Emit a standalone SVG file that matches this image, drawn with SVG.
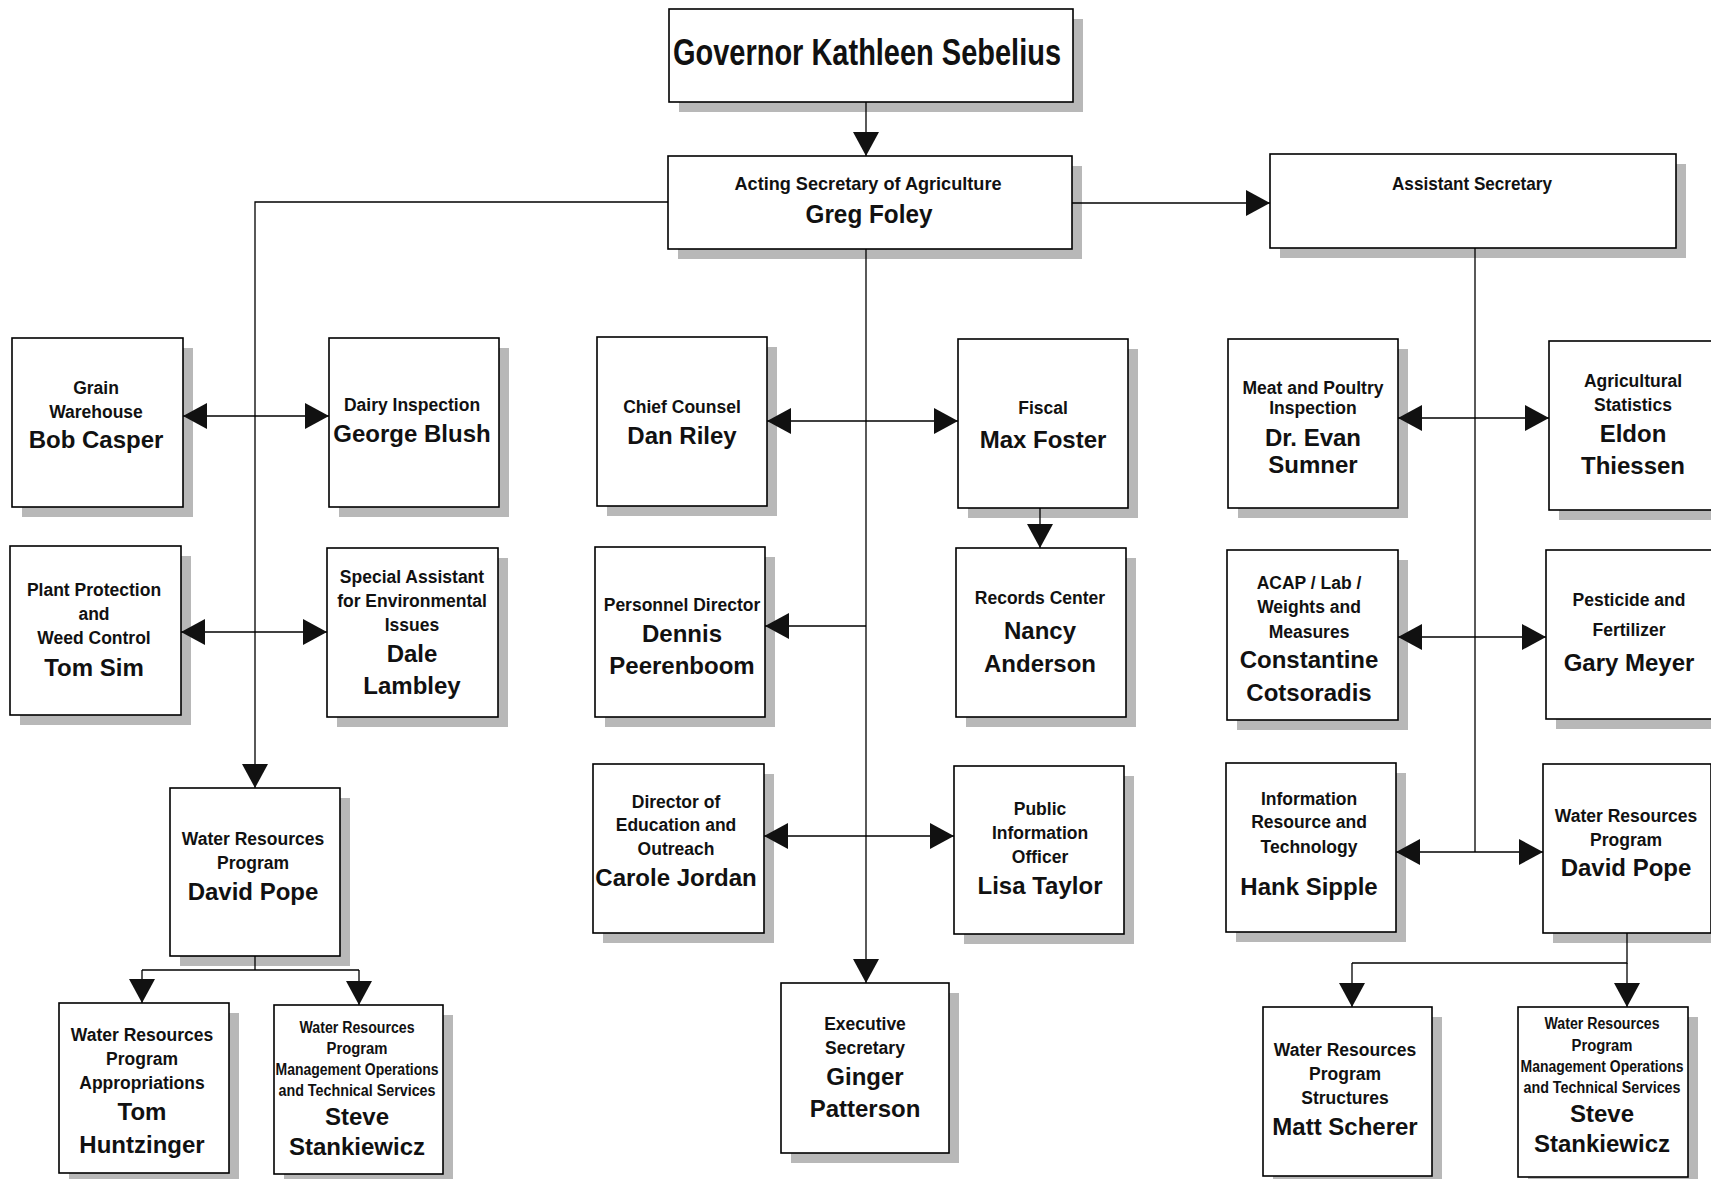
<svg xmlns="http://www.w3.org/2000/svg" width="1711" height="1179" viewBox="0 0 1711 1179">
<style>
.bg{fill:#fff}
.box{fill:#fff;stroke:#000;stroke-width:1.6}
.sh{fill:#b8b8b8}
.t{font-family:"Liberation Sans",Arial,sans-serif;font-weight:bold;text-anchor:middle;fill:#111}
.s{font-size:17.5px}
.m{font-size:16px}
.n{font-size:24px}
.c{stroke:#000;stroke-width:1.3;fill:none}
</style>
<defs>
<marker id="ah" viewBox="0 0 24 26" refX="24" refY="13" markerWidth="24" markerHeight="26" markerUnits="userSpaceOnUse" orient="auto-start-reverse">
<path d="M0,0 L24,13 L0,26 z" fill="#111"/>
</marker>
</defs>
<rect class="bg" x="0" y="0" width="1711" height="1179"/>

<g id="governor">
<rect class="sh" x="679" y="19" width="404" height="93"/>
<rect class="box" x="669" y="9" width="404" height="93"/>
<text class="t" x="867" y="65" font-size="36" textLength="388" lengthAdjust="spacingAndGlyphs">Governor Kathleen Sebelius</text>
</g>

<g id="acting-secretary">
<rect class="sh" x="678" y="166" width="404" height="93"/>
<rect class="box" x="668" y="156" width="404" height="93"/>
<text class="t" x="868" y="190" font-size="19" textLength="267" lengthAdjust="spacingAndGlyphs">Acting Secretary of Agriculture</text>
<text class="t" x="869" y="223" font-size="26" textLength="127" lengthAdjust="spacingAndGlyphs">Greg Foley</text>
</g>

<g id="assistant-secretary">
<rect class="sh" x="1280" y="164" width="406" height="94"/>
<rect class="box" x="1270" y="154" width="406" height="94"/>
<text class="t" x="1472" y="190" font-size="19" textLength="160" lengthAdjust="spacingAndGlyphs">Assistant Secretary</text>
</g>

<g id="grain-warehouse">
<rect class="sh" x="22" y="348" width="171" height="169"/>
<rect class="box" x="12" y="338" width="171" height="169"/>
<text class="t s" x="96" y="394">Grain</text>
<text class="t s" x="96" y="418">Warehouse</text>
<text class="t n" x="96" y="448">Bob Casper</text>
</g>

<g id="dairy-inspection">
<rect class="sh" x="339" y="348" width="170" height="169"/>
<rect class="box" x="329" y="338" width="170" height="169"/>
<text class="t s" x="412" y="411">Dairy Inspection</text>
<text class="t n" x="412" y="442">George Blush</text>
</g>

<g id="plant-protection">
<rect class="sh" x="20" y="556" width="171" height="169"/>
<rect class="box" x="10" y="546" width="171" height="169"/>
<text class="t s" x="94" y="596">Plant Protection</text>
<text class="t s" x="94" y="620">and</text>
<text class="t s" x="94" y="644">Weed Control</text>
<text class="t n" x="94" y="676">Tom Sim</text>
</g>

<g id="special-assistant">
<rect class="sh" x="337" y="558" width="171" height="169"/>
<rect class="box" x="327" y="548" width="171" height="169"/>
<text class="t s" x="412" y="583">Special Assistant</text>
<text class="t s" x="412" y="607">for Environmental</text>
<text class="t s" x="412" y="631">Issues</text>
<text class="t n" x="412" y="662">Dale</text>
<text class="t n" x="412" y="694">Lambley</text>
</g>

<g id="water-resources-left">
<rect class="sh" x="180" y="798" width="170" height="168"/>
<rect class="box" x="170" y="788" width="170" height="168"/>
<text class="t s" x="253" y="845">Water Resources</text>
<text class="t s" x="253" y="869">Program</text>
<text class="t n" x="253" y="900">David Pope</text>
</g>

<g id="tom-huntzinger">
<rect class="sh" x="69" y="1013" width="170" height="170"/>
<rect class="box" x="59" y="1003" width="170" height="170"/>
<text class="t s" x="142" y="1041">Water Resources</text>
<text class="t s" x="142" y="1065">Program</text>
<text class="t s" x="142" y="1089">Appropriations</text>
<text class="t n" x="142" y="1120">Tom</text>
<text class="t n" x="142" y="1153">Huntzinger</text>
</g>

<g id="steve-stankiewicz-left">
<rect class="sh" x="284" y="1015" width="169" height="169"/>
<rect class="box" x="274" y="1005" width="169" height="169"/>
<text class="t m" x="357" y="1033" textLength="115" lengthAdjust="spacingAndGlyphs">Water Resources</text>
<text class="t m" x="357" y="1054" textLength="61" lengthAdjust="spacingAndGlyphs">Program</text>
<text class="t m" x="357" y="1075" textLength="163" lengthAdjust="spacingAndGlyphs">Management Operations</text>
<text class="t m" x="357" y="1096" textLength="157" lengthAdjust="spacingAndGlyphs">and Technical Services</text>
<text class="t n" x="357" y="1125">Steve</text>
<text class="t n" x="357" y="1155">Stankiewicz</text>
</g>

<g id="chief-counsel">
<rect class="sh" x="607" y="347" width="170" height="169"/>
<rect class="box" x="597" y="337" width="170" height="169"/>
<text class="t s" x="682" y="413">Chief Counsel</text>
<text class="t n" x="682" y="444">Dan Riley</text>
</g>

<g id="fiscal">
<rect class="sh" x="968" y="349" width="170" height="169"/>
<rect class="box" x="958" y="339" width="170" height="169"/>
<text class="t s" x="1043" y="414">Fiscal</text>
<text class="t n" x="1043" y="448">Max Foster</text>
</g>

<g id="personnel-director">
<rect class="sh" x="605" y="557" width="170" height="170"/>
<rect class="box" x="595" y="547" width="170" height="170"/>
<text class="t s" x="682" y="611">Personnel Director</text>
<text class="t n" x="682" y="642">Dennis</text>
<text class="t n" x="682" y="674">Peerenboom</text>
</g>

<g id="records-center">
<rect class="sh" x="966" y="558" width="170" height="169"/>
<rect class="box" x="956" y="548" width="170" height="169"/>
<text class="t s" x="1040" y="604">Records Center</text>
<text class="t n" x="1040" y="639">Nancy</text>
<text class="t n" x="1040" y="672">Anderson</text>
</g>

<g id="director-education">
<rect class="sh" x="603" y="774" width="171" height="169"/>
<rect class="box" x="593" y="764" width="171" height="169"/>
<text class="t s" x="676" y="808">Director of</text>
<text class="t s" x="676" y="831">Education and</text>
<text class="t s" x="676" y="855">Outreach</text>
<text class="t n" x="676" y="886">Carole Jordan</text>
</g>

<g id="public-information">
<rect class="sh" x="964" y="776" width="170" height="168"/>
<rect class="box" x="954" y="766" width="170" height="168"/>
<text class="t s" x="1040" y="815">Public</text>
<text class="t s" x="1040" y="839">Information</text>
<text class="t s" x="1040" y="863">Officer</text>
<text class="t n" x="1040" y="894">Lisa Taylor</text>
</g>

<g id="executive-secretary">
<rect class="sh" x="791" y="993" width="168" height="170"/>
<rect class="box" x="781" y="983" width="168" height="170"/>
<text class="t s" x="865" y="1030">Executive</text>
<text class="t s" x="865" y="1054">Secretary</text>
<text class="t n" x="865" y="1085">Ginger</text>
<text class="t n" x="865" y="1117">Patterson</text>
</g>

<g id="meat-poultry">
<rect class="sh" x="1238" y="349" width="170" height="169"/>
<rect class="box" x="1228" y="339" width="170" height="169"/>
<text class="t s" x="1313" y="394">Meat and Poultry</text>
<text class="t s" x="1313" y="414">Inspection</text>
<text class="t n" x="1313" y="446">Dr. Evan</text>
<text class="t n" x="1313" y="473">Sumner</text>
</g>

<g id="agricultural-statistics">
<rect class="sh" x="1559" y="351" width="170" height="169"/>
<rect class="box" x="1549" y="341" width="170" height="169"/>
<text class="t s" x="1633" y="387">Agricultural</text>
<text class="t s" x="1633" y="411">Statistics</text>
<text class="t n" x="1633" y="442">Eldon</text>
<text class="t n" x="1633" y="474">Thiessen</text>
</g>

<g id="acap-lab">
<rect class="sh" x="1237" y="560" width="171" height="170"/>
<rect class="box" x="1227" y="550" width="171" height="170"/>
<text class="t s" x="1309" y="589">ACAP / Lab /</text>
<text class="t s" x="1309" y="613">Weights and</text>
<text class="t s" x="1309" y="638">Measures</text>
<text class="t n" x="1309" y="668">Constantine</text>
<text class="t n" x="1309" y="701">Cotsoradis</text>
</g>

<g id="pesticide-fertilizer">
<rect class="sh" x="1556" y="560" width="170" height="169"/>
<rect class="box" x="1546" y="550" width="170" height="169"/>
<text class="t s" x="1629" y="606">Pesticide and</text>
<text class="t s" x="1629" y="636">Fertilizer</text>
<text class="t n" x="1629" y="671">Gary Meyer</text>
</g>

<g id="information-resource">
<rect class="sh" x="1236" y="773" width="170" height="169"/>
<rect class="box" x="1226" y="763" width="170" height="169"/>
<text class="t s" x="1309" y="805">Information</text>
<text class="t s" x="1309" y="828">Resource and</text>
<text class="t s" x="1309" y="853">Technology</text>
<text class="t n" x="1309" y="895">Hank Sipple</text>
</g>

<g id="water-resources-right">
<rect class="sh" x="1553" y="774" width="168" height="169"/>
<rect class="box" x="1543" y="764" width="168" height="169"/>
<text class="t s" x="1626" y="822">Water Resources</text>
<text class="t s" x="1626" y="846">Program</text>
<text class="t n" x="1626" y="876">David Pope</text>
</g>

<g id="matt-scherer">
<rect class="sh" x="1273" y="1017" width="169" height="169"/>
<rect class="box" x="1263" y="1007" width="169" height="169"/>
<text class="t s" x="1345" y="1056">Water Resources</text>
<text class="t s" x="1345" y="1080">Program</text>
<text class="t s" x="1345" y="1104">Structures</text>
<text class="t n" x="1345" y="1135">Matt Scherer</text>
</g>

<g id="steve-stankiewicz-right">
<rect class="sh" x="1528" y="1017" width="170" height="170"/>
<rect class="box" x="1518" y="1007" width="170" height="170"/>
<text class="t m" x="1602" y="1029" textLength="115" lengthAdjust="spacingAndGlyphs">Water Resources</text>
<text class="t m" x="1602" y="1051" textLength="61" lengthAdjust="spacingAndGlyphs">Program</text>
<text class="t m" x="1602" y="1072" textLength="163" lengthAdjust="spacingAndGlyphs">Management Operations</text>
<text class="t m" x="1602" y="1093" textLength="157" lengthAdjust="spacingAndGlyphs">and Technical Services</text>
<text class="t n" x="1602" y="1122">Steve</text>
<text class="t n" x="1602" y="1152">Stankiewicz</text>
</g>

<g id="connectors">
<line class="c" x1="866" y1="102" x2="866" y2="156" marker-end="url(#ah)"/>
<line class="c" x1="1072" y1="203" x2="1270" y2="203" marker-end="url(#ah)"/>
<polyline class="c" points="668,202 255,202 255,788" marker-end="url(#ah)"/>
<line class="c" x1="183" y1="416" x2="329" y2="416" marker-start="url(#ah)" marker-end="url(#ah)"/>
<line class="c" x1="181" y1="632" x2="327" y2="632" marker-start="url(#ah)" marker-end="url(#ah)"/>
<polyline class="c" points="255,956 255,970"/>
<polyline class="c" points="142,970 359,970"/>
<line class="c" x1="142" y1="970" x2="142" y2="1003" marker-end="url(#ah)"/>
<line class="c" x1="359" y1="970" x2="359" y2="1005" marker-end="url(#ah)"/>
<line class="c" x1="866" y1="249" x2="866" y2="983" marker-end="url(#ah)"/>
<line class="c" x1="767" y1="421" x2="958" y2="421" marker-start="url(#ah)" marker-end="url(#ah)"/>
<line class="c" x1="866" y1="626" x2="765" y2="626" marker-end="url(#ah)"/>
<line class="c" x1="1040" y1="508" x2="1040" y2="548" marker-end="url(#ah)"/>
<line class="c" x1="764" y1="836" x2="954" y2="836" marker-start="url(#ah)" marker-end="url(#ah)"/>
<line class="c" x1="1475" y1="248" x2="1475" y2="852"/>
<line class="c" x1="1398" y1="418" x2="1549" y2="418" marker-start="url(#ah)" marker-end="url(#ah)"/>
<line class="c" x1="1398" y1="637" x2="1546" y2="637" marker-start="url(#ah)" marker-end="url(#ah)"/>
<line class="c" x1="1396" y1="852" x2="1543" y2="852" marker-start="url(#ah)" marker-end="url(#ah)"/>
<polyline class="c" points="1627,933 1627,963 1352,963"/>
<line class="c" x1="1352" y1="963" x2="1352" y2="1007" marker-end="url(#ah)"/>
<line class="c" x1="1627" y1="963" x2="1627" y2="1007" marker-end="url(#ah)"/>
</g>
</svg>
